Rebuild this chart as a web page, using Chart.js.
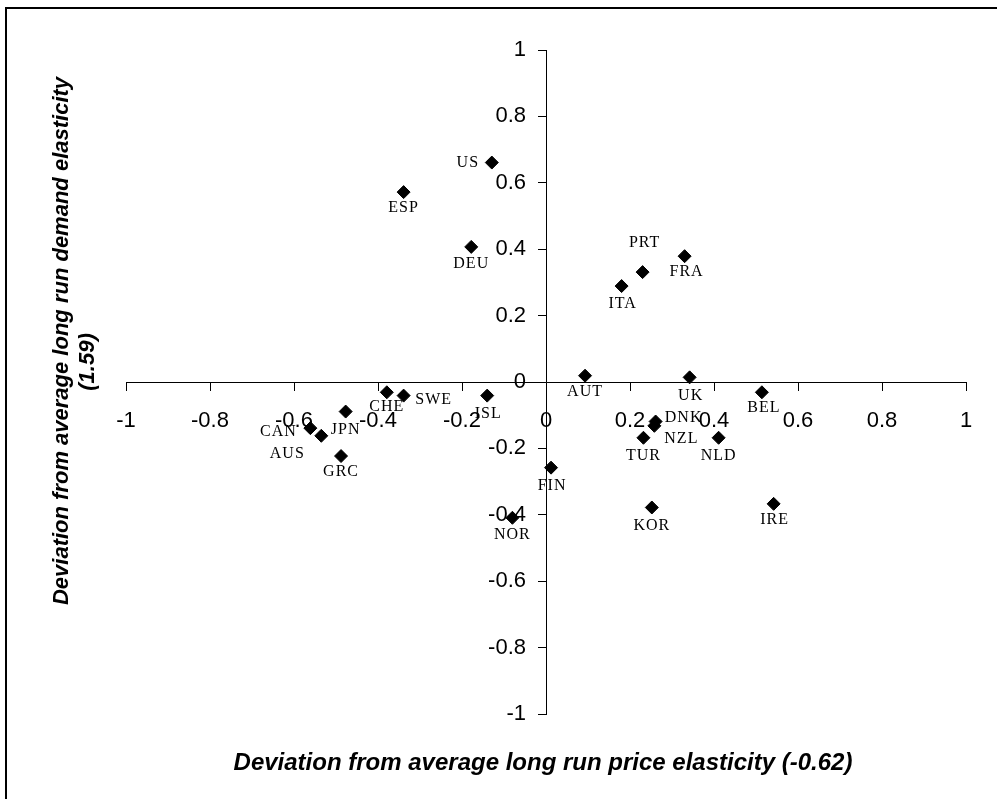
<!DOCTYPE html>
<html>
<head>
<meta charset="utf-8">
<script src="https://cdn.jsdelivr.net/npm/chart.js@4"></script>
<style>
  html, body { margin: 0; padding: 0; background: #fff; overflow: hidden; }
  #wrap { position: relative; width: 997px; height: 799px; }
  #frame { position: absolute; left: 5px; top: 7px; width: 1100px; height: 900px; border: 2px solid #000; }
  #chart { position: absolute; left: 0; top: 0; }
</style>
</head>
<body>
<div id="wrap">
  <div id="frame"></div>
  <canvas id="chart" width="997" height="799"></canvas>
</div>
<script>
// deviations from the OECD averages
const countries = ['AUS', 'AUT', 'BEL', 'CAN', 'CHE', 'DEU', 'DNK', 'ESP', 'FIN', 'FRA', 'GRC', 'IRE',
                   'ISL', 'ITA', 'JPN', 'KOR', 'NLD', 'NOR', 'NZL', 'PRT', 'SWE', 'TUR', 'UK', 'US'];
const priceDev  = [-0.535, 0.093, 0.514, -0.561, -0.379, -0.178, 0.261, -0.339, 0.012, 0.330, -0.488, 0.542,
                   -0.140, 0.180, -0.477, 0.252, 0.411, -0.080, 0.258, 0.230, -0.339, 0.232, 0.342, -0.129];
const demandDev = [-0.162, 0.019, -0.031, -0.139, -0.031, 0.407, -0.119, 0.572, -0.258, 0.379, -0.223, -0.367,
                   -0.041, 0.289, -0.089, -0.378, -0.168, -0.409, -0.132, 0.331, -0.041, -0.168, 0.014, 0.661];

const xTitle = 'Deviation from average long run price elasticity (-0.62)';
const yTitle = ['Deviation from average long run demand elasticity', '(1.59)'];

// where each country label sits relative to its marker (text centre, px)
const labelOffset = [[-34, 18], [0, 16], [2, 16], [-32, 4], [0, 15], [0, 17], [28, -4], [0, 16], [1, 18], [2, 16], [0, 16], [1, 16],
                     [1, 18], [1, 18], [0, 18], [0, 18], [0, 18], [0, 17], [27, 13], [2, -29], [30, 4], [0, 18], [1, 18], [-24, 0]];

const $ = (s) => document.querySelector(s);
const tickFmt = (v) => { const r = Math.round(v * 10) / 10; return r === 0 ? '0' : String(r); };
const tickFont = '22px "Liberation Sans"';

// chart.js puts y labels of a centred axis right on the line, so draw them with a gap
const yTickLabels = {
  id: 'yTickLabels',
  beforeDatasetsDraw(chart) {
    const { ctx, scales: { x, y } } = chart;
    const axisX = x.getPixelForValue(0);
    ctx.save();
    ctx.font = tickFont;
    ctx.fillStyle = '#000';
    ctx.textAlign = 'right';
    ctx.textBaseline = 'middle';
    y.ticks.forEach(t => ctx.fillText(tickFmt(t.value), axisX - 20, y.getPixelForValue(t.value)));
    ctx.restore();
  }
};

const pointLabels = {
  id: 'pointLabels',
  afterDatasetsDraw(chart) {
    const ctx = chart.ctx;
    const meta = chart.getDatasetMeta(0);
    ctx.save();
    ctx.font = '16px "Liberation Serif"';
    ctx.letterSpacing = '1px';
    ctx.fillStyle = '#000';
    ctx.textAlign = 'center';
    ctx.textBaseline = 'middle';
    meta.data.forEach((pt, i) => {
      const [dx, dy] = labelOffset[i];
      ctx.fillText(countries[i], pt.x + dx, pt.y + dy);
    });
    ctx.restore();
  }
};

const axisTitles = {
  id: 'axisTitles',
  afterDraw(chart) {
    const ctx = chart.ctx;
    ctx.save();
    ctx.fillStyle = '#000';
    ctx.textAlign = 'center';
    ctx.textBaseline = 'middle';
    ctx.font = 'italic bold 24px "Liberation Sans"';
    ctx.fillText(xTitle, 543, 763);
    ctx.font = 'italic bold 22px "Liberation Sans"';
    const yCentre = [341, 362];
    yTitle.forEach((line, i) => {
      ctx.save();
      ctx.translate(62 + i * 26, yCentre[i]);
      ctx.rotate(-Math.PI / 2);
      ctx.fillText(line, 0, 0);
      ctx.restore();
    });
    ctx.restore();
  }
};

const axisStyle = {
  min: -1, max: 1,
  border: { display: true, color: '#000', width: 1 },
  grid: { drawOnChartArea: false, drawTicks: true, tickLength: 8, color: '#000' },
};

new Chart($('#chart'), {
  type: 'scatter',
  data: {
    datasets: [{
      data: priceDev.map((x, i) => ({ x, y: demandDev[i] })),
      pointStyle: 'rectRot',
      pointRadius: 6.5,
      pointBackgroundColor: '#000',
      pointBorderColor: '#000',
      pointBorderWidth: 1
    }]
  },
  options: {
    responsive: false,
    animation: false,
    layout: { padding: { left: 126, right: 31, top: 50, bottom: 85 } },
    plugins: { legend: { display: false }, tooltip: { enabled: false } },
    scales: {
      x: {
        ...axisStyle,
        position: { y: 0 },
        ticks: { stepSize: 0.2, autoSkip: false, maxRotation: 0, padding: 18, color: '#000',
                  font: { family: '"Liberation Sans"', size: 22 }, callback: tickFmt }
      },
      y: {
        ...axisStyle,
        position: { x: 0 },
        ticks: { display: false, stepSize: 0.2, autoSkip: false }
      }
    }
  },
  plugins: [yTickLabels, pointLabels, axisTitles]
});
</script>
</body>
</html>
